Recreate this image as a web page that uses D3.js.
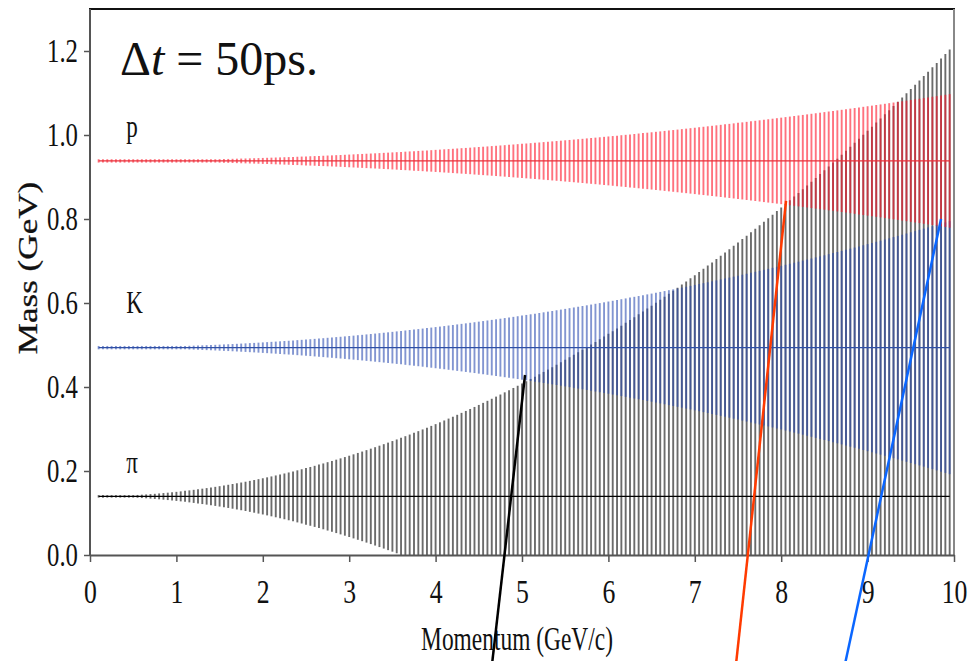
<!DOCTYPE html>
<html>
<head>
<meta charset="utf-8">
<script src="https://cdn.jsdelivr.net/npm/d3@7"></script>
<style>
  html, body { margin: 0; padding: 0; background: #fff; }
  svg { display: block; }
  text { font-family: "Liberation Serif", "Times New Roman", serif; fill: #111; }
</style>
</head>
<body>
<svg id="chart" width="972" height="661"></svg>
<script>
// ---------------- data ----------------
const momentum = [
 0.10,0.15,0.20,0.25,0.30,0.35,0.40,0.45,0.50,0.55,
 0.60,0.65,0.70,0.75,0.80,0.85,0.90,0.95,1.00,1.05,
 1.10,1.15,1.20,1.25,1.30,1.35,1.40,1.45,1.50,1.55,
 1.60,1.65,1.70,1.75,1.80,1.85,1.90,1.95,2.00,2.05,
 2.10,2.15,2.20,2.25,2.30,2.35,2.40,2.45,2.50,2.55,
 2.60,2.65,2.70,2.75,2.80,2.85,2.90,2.95,3.00,3.05,
 3.10,3.15,3.20,3.25,3.30,3.35,3.40,3.45,3.50,3.55,
 3.60,3.65,3.70,3.75,3.80,3.85,3.90,3.95,4.00,4.05,
 4.10,4.15,4.20,4.25,4.30,4.35,4.40,4.45,4.50,4.55,
 4.60,4.65,4.70,4.75,4.80,4.85,4.90,4.95,5.00,5.05,
 5.10,5.15,5.20,5.25,5.30,5.35,5.40,5.45,5.50,5.55,
 5.60,5.65,5.70,5.75,5.80,5.85,5.90,5.95,6.00,6.05,
 6.10,6.15,6.20,6.25,6.30,6.35,6.40,6.45,6.50,6.55,
 6.60,6.65,6.70,6.75,6.80,6.85,6.90,6.95,7.00,7.05,
 7.10,7.15,7.20,7.25,7.30,7.35,7.40,7.45,7.50,7.55,
 7.60,7.65,7.70,7.75,7.80,7.85,7.90,7.95,8.00,8.05,
 8.10,8.15,8.20,8.25,8.30,8.35,8.40,8.45,8.50,8.55,
 8.60,8.65,8.70,8.75,8.80,8.85,8.90,8.95,9.00,9.05,
 9.10,9.15,9.20,9.25,9.30,9.35,9.40,9.45,9.50,9.55,
 9.60,9.65,9.70,9.75,9.80,9.85,9.90,9.95
];

const massPi = 0.1396, massK = 0.4937, massP = 0.9383;

// half-width of the mass error bar at each momentum
const sigmaPi = [
 0.003,0.003,0.003,0.003,0.003,0.003,0.003,0.003,0.003,0.0034,
 0.0040,0.0046,0.0054,0.0061,0.0070,0.0079,0.0088,0.0098,0.0108,0.0119,
 0.0131,0.0143,0.0156,0.0169,0.0183,0.0197,0.0212,0.0227,0.0243,0.0259,
 0.0276,0.0294,0.0312,0.0330,0.0349,0.0369,0.0389,0.0410,0.0431,0.0453,
 0.0475,0.0498,0.0521,0.0545,0.0569,0.0594,0.0620,0.0646,0.0673,0.0700,
 0.0727,0.0756,0.0784,0.0814,0.0843,0.0874,0.0905,0.0936,0.0968,0.1001,
 0.1034,0.1067,0.1101,0.1136,0.1171,0.1207,0.1243,0.1280,0.1317,0.1355,
 0.1394,0.1433,0.1472,0.1512,0.1553,0.1594,0.1635,0.1678,0.1720,0.1763,
 0.1807,0.1852,0.1896,0.1942,0.1988,0.2034,0.2081,0.2129,0.2177,0.2226,
 0.2275,0.2324,0.2375,0.2425,0.2477,0.2529,0.2581,0.2634,0.2687,0.2741,
 0.2796,0.2851,0.2907,0.2963,0.3019,0.3077,0.3134,0.3193,0.3251,0.3311,
 0.3371,0.3431,0.3492,0.3554,0.3616,0.3678,0.3741,0.3805,0.3869,0.3934,
 0.3999,0.4065,0.4131,0.4198,0.4266,0.4334,0.4402,0.4471,0.4541,0.4611,
 0.4682,0.4753,0.4824,0.4897,0.4970,0.5043,0.5117,0.5191,0.5266,0.5342,
 0.5418,0.5494,0.5571,0.5649,0.5727,0.5806,0.5885,0.5965,0.6045,0.6126,
 0.6207,0.6289,0.6372,0.6455,0.6538,0.6622,0.6707,0.6792,0.6878,0.6964,
 0.7051,0.7138,0.7226,0.7314,0.7403,0.7493,0.7583,0.7673,0.7764,0.7856,
 0.7948,0.8041,0.8134,0.8228,0.8322,0.8417,0.8512,0.8608,0.8704,0.8801,
 0.8899,0.8997,0.9096,0.9195,0.9294,0.9395,0.9495,0.9597,0.9698,0.9801,
 0.9904,1.0007,1.0111,1.0216,1.0321,1.0426,1.0532,1.0639
];

const sigmaK = [
 0.004,0.004,0.004,0.004,0.004,0.004,0.004,0.004,0.004,0.004,
 0.004,0.004,0.004,0.004,0.004,0.004,0.004,0.004,0.004,0.004,
 0.0040,0.0044,0.0047,0.0051,0.0055,0.0059,0.0063,0.0067,0.0072,0.0077,
 0.0081,0.0086,0.0091,0.0097,0.0102,0.0108,0.0113,0.0119,0.0125,0.0131,
 0.0138,0.0144,0.0151,0.0158,0.0164,0.0172,0.0179,0.0186,0.0194,0.0201,
 0.0209,0.0217,0.0225,0.0234,0.0242,0.0251,0.0259,0.0268,0.0277,0.0286,
 0.0296,0.0305,0.0315,0.0325,0.0335,0.0345,0.0355,0.0365,0.0376,0.0387,
 0.0398,0.0409,0.0420,0.0431,0.0442,0.0454,0.0466,0.0478,0.0490,0.0502,
 0.0514,0.0527,0.0540,0.0553,0.0566,0.0579,0.0592,0.0605,0.0619,0.0633,
 0.0647,0.0661,0.0675,0.0689,0.0704,0.0718,0.0733,0.0748,0.0763,0.0779,
 0.0794,0.0810,0.0825,0.0841,0.0857,0.0873,0.0890,0.0906,0.0923,0.0940,
 0.0957,0.0974,0.0991,0.1008,0.1026,0.1044,0.1061,0.1079,0.1098,0.1116,
 0.1134,0.1153,0.1172,0.1191,0.1210,0.1229,0.1248,0.1268,0.1287,0.1307,
 0.1327,0.1347,0.1368,0.1388,0.1409,0.1429,0.1450,0.1471,0.1493,0.1514,
 0.1535,0.1557,0.1579,0.1601,0.1623,0.1645,0.1668,0.1690,0.1713,0.1736,
 0.1759,0.1782,0.1805,0.1829,0.1852,0.1876,0.1900,0.1924,0.1948,0.1973,
 0.1997,0.2022,0.2047,0.2072,0.2097,0.2122,0.2148,0.2173,0.2199,0.2225,
 0.2251,0.2277,0.2303,0.2330,0.2357,0.2383,0.2410,0.2438,0.2465,0.2492,
 0.2520,0.2547,0.2575,0.2603,0.2632,0.2660,0.2688,0.2717,0.2746,0.2775,
 0.2804,0.2833,0.2862,0.2892,0.2922,0.2952,0.2982,0.3012
];

const sigmaP = [
 0.004,0.004,0.004,0.004,0.004,0.004,0.004,0.004,0.004,0.004,
 0.004,0.004,0.004,0.004,0.004,0.004,0.004,0.004,0.004,0.004,
 0.004,0.004,0.004,0.004,0.004,0.004,0.004,0.004,0.0042,0.0045,
 0.0047,0.0050,0.0053,0.0056,0.0058,0.0061,0.0064,0.0067,0.0071,0.0074,
 0.0077,0.0081,0.0084,0.0088,0.0091,0.0095,0.0099,0.0103,0.0107,0.0111,
 0.0115,0.0119,0.0123,0.0128,0.0132,0.0137,0.0141,0.0146,0.0151,0.0156,
 0.0161,0.0166,0.0171,0.0176,0.0181,0.0186,0.0192,0.0197,0.0203,0.0208,
 0.0214,0.0220,0.0226,0.0232,0.0238,0.0244,0.0250,0.0256,0.0263,0.0269,
 0.0276,0.0282,0.0289,0.0296,0.0303,0.0309,0.0316,0.0324,0.0331,0.0338,
 0.0345,0.0353,0.0360,0.0368,0.0375,0.0383,0.0391,0.0399,0.0407,0.0415,
 0.0423,0.0431,0.0439,0.0448,0.0456,0.0465,0.0473,0.0482,0.0491,0.0499,
 0.0508,0.0517,0.0526,0.0536,0.0545,0.0554,0.0563,0.0573,0.0582,0.0592,
 0.0602,0.0612,0.0621,0.0631,0.0641,0.0652,0.0662,0.0672,0.0682,0.0693,
 0.0703,0.0714,0.0725,0.0735,0.0746,0.0757,0.0768,0.0779,0.0790,0.0802,
 0.0813,0.0824,0.0836,0.0847,0.0859,0.0871,0.0882,0.0894,0.0906,0.0918,
 0.0930,0.0943,0.0955,0.0967,0.0980,0.0992,0.1005,0.1017,0.1030,0.1043,
 0.1056,0.1069,0.1082,0.1095,0.1108,0.1122,0.1135,0.1148,0.1162,0.1176,
 0.1189,0.1203,0.1217,0.1231,0.1245,0.1259,0.1273,0.1288,0.1302,0.1316,
 0.1331,0.1345,0.1360,0.1375,0.1390,0.1405,0.1420,0.1435,0.1450,0.1465,
 0.1480,0.1496,0.1511,0.1527,0.1542,0.1558,0.1574,0.1590
];

const xTicks = [0,1,2,3,4,5,6,7,8,9,10];
const yTicks = [0.0,0.2,0.4,0.6,0.8,1.0,1.2];
const speciesLabels = ["π","K","p"];

// pointer lines (annotation)
const pointerBottomP = [4.653, 7.477, 8.738];
const pointerTopP    = [5.035, 8.056, 9.85];
const pointerTopM    = [0.4286, 0.843, 0.800];
const pointerBottomM = -0.26;

// ---------------- drawing ----------------
const svg = d3.select("#chart");
const x = d3.scaleLinear().domain([0, 10]).range([90, 954]);
const y = d3.scaleLinear().domain([0, 1.3]).range([555, 9]);

svg.append("defs").append("clipPath").attr("id", "plotclip")
  .append("rect")
  .attr("x", x(0)).attr("y", y(1.3))
  .attr("width", x(10) - x(0)).attr("height", y(0) - y(1.3));

const series = [
  {mass: massPi, sigma: sigmaPi, bar: "#000000", barOp: 0.58, line: "#000000"},
  {mass: massK,  sigma: sigmaK,  bar: "#2848b0", barOp: 0.58, line: "#2f4fa5"},
  {mass: massP,  sigma: sigmaP,  bar: "#ff1428", barOp: 0.6,  line: "#e8303a"}
];

const plot = svg.append("g").attr("clip-path", "url(#plotclip)");

series.forEach(s => {
  plot.append("g").selectAll("line")
    .data(momentum.map((p, i) => ({p, lo: s.mass - s.sigma[i], hi: s.mass + s.sigma[i]})))
    .join("line")
    .attr("x1", d => x(d.p)).attr("x2", d => x(d.p))
    .attr("y1", d => y(d.lo)).attr("y2", d => y(d.hi))
    .attr("stroke", s.bar).attr("stroke-opacity", s.barOp)
    .attr("stroke-width", 1.9);
});
series.forEach(s => {
  plot.append("line")
    .attr("x1", x(momentum[0])).attr("x2", x(momentum[momentum.length - 1]))
    .attr("y1", y(s.mass)).attr("y2", y(s.mass))
    .attr("stroke", s.line).attr("stroke-width", 1.3);
});

// frame: top (black) and right (gray)
svg.append("line").attr("x1", x(0) - 1).attr("x2", x(10) + 1)
  .attr("y1", y(1.3)).attr("y2", y(1.3)).attr("stroke", "#111").attr("stroke-width", 1.8);
svg.append("line").attr("x1", x(10)).attr("x2", x(10))
  .attr("y1", y(1.3)).attr("y2", y(0)).attr("stroke", "#888").attr("stroke-width", 2);

// axes
const yAxis = svg.append("g").attr("transform", `translate(${x(0)},0)`)
  .call(d3.axisLeft(y).tickValues(yTicks).tickFormat(d3.format(".1f")).tickSize(6).tickSizeOuter(0));
const xAxis = svg.append("g").attr("transform", `translate(0,${y(0)})`)
  .call(d3.axisBottom(x).tickValues(xTicks).tickFormat(d3.format("d")).tickSize(7).tickSizeOuter(0));

[yAxis, xAxis].forEach(a => {
  a.select(".domain").attr("stroke", "#555").attr("stroke-width", 2);
  a.selectAll(".tick line").attr("stroke", "#555").attr("stroke-width", 1.5);
  a.selectAll(".tick text").attr("font-family", '"Liberation Serif", "Times New Roman", serif')
    .attr("font-size", 33).attr("fill", "#111");
});
yAxis.select(".domain").attr("d", `M0,${y(1.3)}V${y(0)}`);
yAxis.selectAll(".tick text").attr("x", null).attr("dy", "0.32em")
  .attr("transform", "translate(-12,0) scale(0.75,1)");
xAxis.selectAll(".tick text").attr("y", null).attr("dy", null)
  .attr("transform", "translate(0,48) scale(0.78,1)");

// axis titles
svg.append("text")
  .attr("transform", `translate(${x(5) - 5},650) scale(0.71,1)`)
  .attr("text-anchor", "middle").attr("font-size", 33)
  .text("Momentum (GeV/c)");
svg.append("text")
  .attr("transform", "translate(37,268) rotate(-90) scale(1.3,1)")
  .attr("text-anchor", "middle").attr("font-size", 27)
  .attr("stroke", "#111").attr("stroke-width", 0.3)
  .text("Mass (GeV)");

// species labels
const labelMass = [massPi + 0.056, massK + 0.083, massP + 0.057];
speciesLabels.forEach((t, i) => {
  svg.append("text")
    .attr("transform", `translate(${x(0.42)},${y(labelMass[i])}) scale(0.72,1)`)
    .attr("font-size", 32).text(t);
});

// Δt annotation
const dt = svg.append("text").attr("x", 120).attr("y", 75).attr("font-size", 48).attr("fill", "#000");
dt.append("tspan").text("Δ");
dt.append("tspan").attr("font-style", "italic").text("t");
dt.append("tspan").text(" = 50ps.");

// pointer lines
const pointerColors = ["#000000", "#ff3a00", "#0a66ff"];
pointerTopP.forEach((p, i) => {
  svg.append("line")
    .attr("x1", x(pointerBottomP[i])).attr("y1", y(pointerBottomM))
    .attr("x2", x(p)).attr("y2", y(pointerTopM[i]))
    .attr("stroke", pointerColors[i]).attr("stroke-width", 2.5);
});
</script>
</body>
</html>
